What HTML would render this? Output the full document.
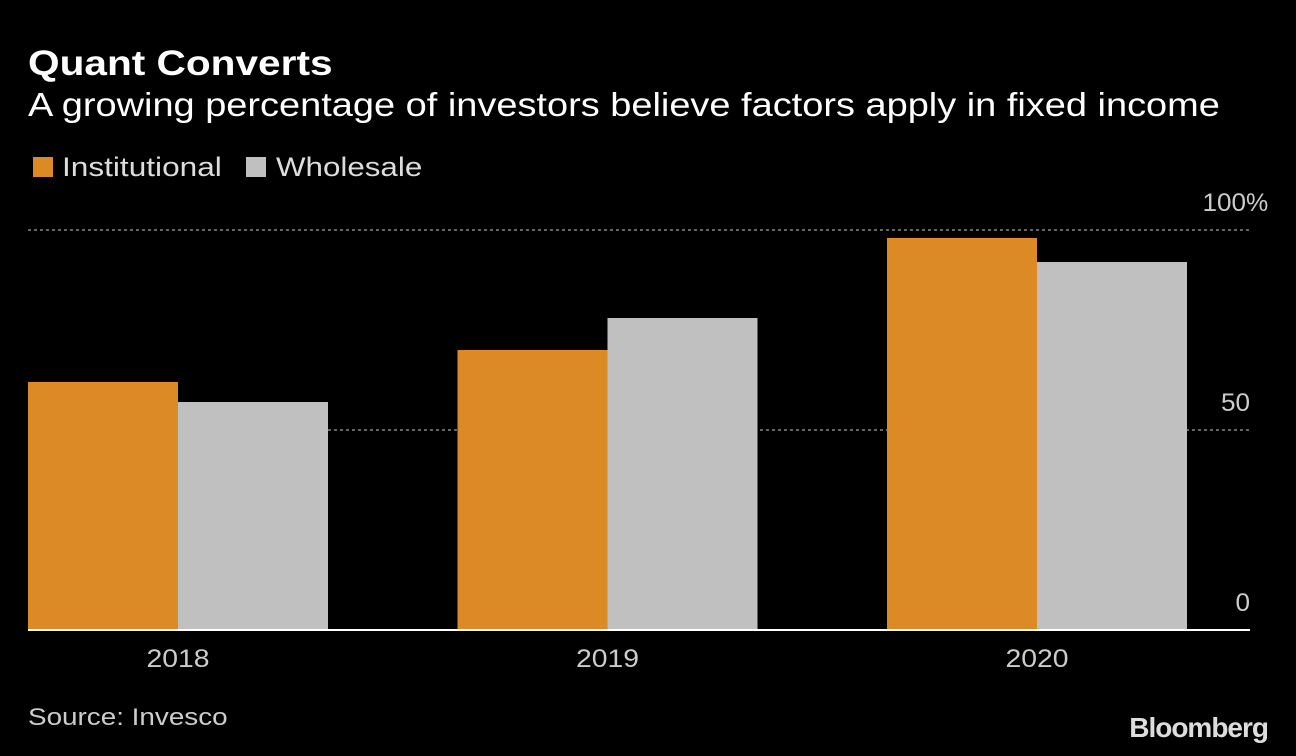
<!DOCTYPE html>
<html><head><meta charset="utf-8"><style>
body{margin:0;background:#000;width:1296px;height:756px;overflow:hidden;font-family:"Liberation Sans",sans-serif;color:#fff}
.t{position:absolute;white-space:nowrap;transform-origin:0 0}
</style></head><body>
<div class="t" style="left:28px;top:44px;font-size:35px;font-weight:bold;transform:scaleX(1.16)">Quant Converts</div>
<div class="t" style="left:28px;top:86px;font-size:33px;transform:scaleX(1.15)">A growing percentage of investors believe factors apply in fixed income</div>
<div>
<div class="t" style="left:33px;top:157px;width:20px;height:20px;background:#dc8a25"></div>
<div class="t" style="left:62px;top:152px;font-size:27px;color:#ddd;transform:scaleX(1.17)">Institutional</div>
<div class="t" style="left:246px;top:157px;width:20px;height:20px;background:#c0c0c0"></div>
<div class="t" style="left:276px;top:152px;font-size:27px;color:#ddd;transform:scaleX(1.16)">Wholesale</div>
</div>
<svg id="c" width="1296" height="756" style="position:absolute;left:0;top:0"></svg>
<div class="t" style="left:28px;top:704px;font-size:24px;color:#ccc;transform:scaleX(1.16)">Source: Invesco</div>
<div class="t" style="right:28px;top:712px;font-size:28px;font-weight:bold;color:#ddd;letter-spacing:-1px">Bloomberg</div>
<script>
const categories=["2018","2019","2020"];
const institutional=[62,70,98];
const wholesale=[57,78,92];
const ticks=[0,50,100];
const tickLabels=["0","50","100"];
const svg=document.getElementById('c');
const NS="http://www.w3.org/2000/svg";
const y0=630,yTop=230;
const y=v=>y0-(v/100)*(y0-yTop);
const gx=i=>28+i*429.5;
function mk(t,a){const e=document.createElementNS(NS,t);for(const k in a)e.setAttribute(k,a[k]);svg.appendChild(e);return e;}
ticks.forEach((t,i)=>{
 if(t>0){const l=mk('line',{x1:28,x2:1250,y1:y(t),y2:y(t),stroke:'#888','stroke-dasharray':'3,3','stroke-width':1.5});
 
 }
 const last=i===ticks.length-1;
 const tx=mk('text',{x:last?1246:1250,y:y(t)-19,'text-anchor':'end',fill:'#ccc','font-size':25,'font-family':'Liberation Sans',textLength:tickLabels[i].length*14.5,lengthAdjust:'spacingAndGlyphs'});
 tx.textContent=tickLabels[i];
 
 
 if(last){
  const p=mk('text',{x:1246,y:y(t)-19,fill:'#ccc','font-size':25,'font-family':'Liberation Sans'});
  p.textContent='%';
  
  
 }
});
categories.forEach((c,i)=>{
 const x=gx(i);
 const a=mk('rect',{x:x,y:y(institutional[i]),width:150,height:y0-y(institutional[i]),fill:'#dc8a25'});
 
 
 const b=mk('rect',{x:x+150,y:y(wholesale[i]),width:150,height:y0-y(wholesale[i]),fill:'#c0c0c0'});
 
 
 const t=mk('text',{x:x+150,y:667,'text-anchor':'middle',fill:'#ccc','font-size':25,'font-family':'Liberation Sans',textLength:63,lengthAdjust:'spacingAndGlyphs'});
 t.textContent=c;
 
 
});
const base=mk('line',{x1:28,x2:1250,y1:y0,y2:y0,stroke:'#fff','stroke-width':2});


</script>
</body></html>
